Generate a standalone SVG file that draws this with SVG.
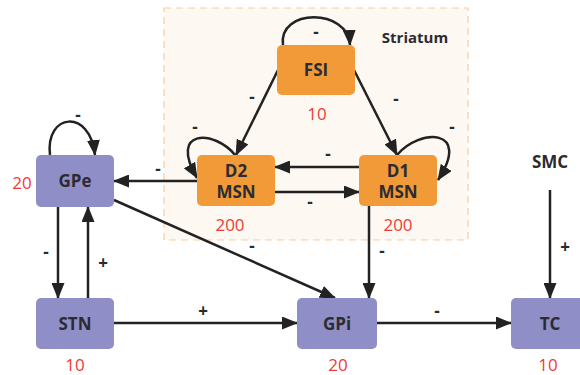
<svg xmlns="http://www.w3.org/2000/svg" width="580" height="375" viewBox="0 0 580 375">
<style>
.bg{fill:#fdf8f1;stroke:#f6cda6;stroke-width:1.2;stroke-dasharray:7 5}
.or{fill:#f29a38}
.pu{fill:#908ec6}
.t{font-family:"Open Sans","Noto Sans",sans-serif;font-weight:bold;font-size:17px;fill:#2b2b33;text-anchor:middle}
.n{font-family:"Open Sans","Noto Sans",sans-serif;font-size:17px;fill:#ee3b36;text-anchor:middle}
.s{font-family:"Open Sans","Noto Sans",sans-serif;font-weight:bold;font-size:17px;fill:#2b2b2b;text-anchor:middle}
.e{fill:none;stroke:#222;stroke-width:2.5}
</style>
<defs>
<marker id="a" viewBox="0 0 16 13" refX="15" refY="6.5" markerWidth="16" markerHeight="13" markerUnits="userSpaceOnUse" orient="auto">
<path d="M0,0 L16,6.5 L0,13 Z" fill="#222"/>
</marker>
</defs>
<rect class="bg" x="164" y="8" width="304" height="232"/>
<text x="415" y="43" class="t" style="font-size:15px">Striatum</text>
<g id="connectors">
<path class="e" marker-end="url(#a)" d="M283,45 C278,8 348,8 350,45"/>
<path class="e" marker-end="url(#a)" d="M278,70 L236,155"/>
<path class="e" marker-end="url(#a)" d="M354,70 L397,155"/>
<path class="e" marker-end="url(#a)" d="M235,155 C215,130 168,128 197,178"/>
<path class="e" marker-end="url(#a)" d="M397,155 C420,128 472,128 438,180"/>
<path class="e" marker-end="url(#a)" d="M359,167 L275,167"/>
<path class="e" marker-end="url(#a)" d="M275,192 L359,192"/>
<path class="e" marker-end="url(#a)" d="M197,181 L114,181"/>
<path class="e" marker-end="url(#a)" d="M50,155 C45,113 90,108 95,155"/>
<path class="e" marker-end="url(#a)" d="M58,207 L58,298"/>
<path class="e" marker-end="url(#a)" d="M88,298 L88,207"/>
<path class="e" marker-end="url(#a)" d="M114,200 L335,298"/>
<path class="e" marker-end="url(#a)" d="M369,206 L369,298"/>
<path class="e" marker-end="url(#a)" d="M114,323 L297,323"/>
<path class="e" marker-end="url(#a)" d="M377,323 L511,323"/>
<path class="e" marker-end="url(#a)" d="M550,190 L550,298"/>
</g>
<g id="edge-labels" class="s">
<text x="316" y="38">-</text>
<text x="252" y="103">-</text>
<text x="396" y="105">-</text>
<text x="195" y="133">-</text>
<text x="452" y="133">-</text>
<text x="328" y="160">-</text>
<text x="310" y="208">-</text>
<text x="158" y="175">-</text>
<text x="78" y="121">-</text>
<text x="46" y="258">-</text>
<text x="103" y="269">+</text>
<text x="252" y="252">-</text>
<text x="382" y="257">-</text>
<text x="203" y="317">+</text>
<text x="437" y="317">-</text>
<text x="565" y="253">+</text>
</g>
<g id="FSI"><rect class="or" x="277" y="45" width="78" height="50" rx="5"/><text x="316" y="76" class="t">FSI</text><text x="317" y="120" class="n">10</text></g>
<g id="D2MSN"><rect class="or" x="197" y="155" width="78" height="51" rx="5"/><text x="236" y="177" class="t">D2</text><text x="236" y="198" class="t">MSN</text><text x="230" y="231" class="n">200</text></g>
<g id="D1MSN"><rect class="or" x="359" y="155" width="78" height="51" rx="5"/><text x="398" y="177" class="t">D1</text><text x="398" y="198" class="t">MSN</text><text x="398" y="231" class="n">200</text></g>
<g id="GPe"><rect class="pu" x="36" y="155" width="78" height="52" rx="5"/><text x="75" y="187" class="t">GPe</text><text x="22" y="189" class="n">20</text></g>
<g id="STN"><rect class="pu" x="36" y="298" width="78" height="51" rx="5"/><text x="75" y="330" class="t">STN</text><text x="75" y="371" class="n">10</text></g>
<g id="GPi"><rect class="pu" x="297" y="298" width="80" height="51" rx="5"/><text x="337" y="330" class="t">GPi</text><text x="338" y="371" class="n">20</text></g>
<g id="TC"><rect class="pu" x="511" y="298" width="78" height="51" rx="5"/><text x="550" y="330" class="t">TC</text><text x="548" y="371" class="n">10</text></g>
<g id="SMC"><text x="550" y="168" class="t">SMC</text></g>
</svg>
